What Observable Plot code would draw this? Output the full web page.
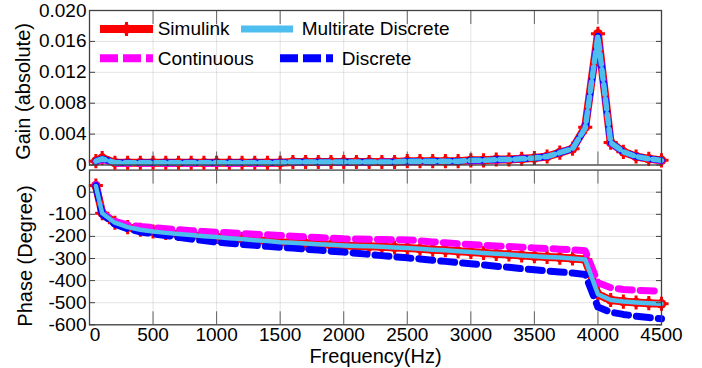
<!DOCTYPE html>
<html><head><meta charset="utf-8">
<script src="https://cdn.jsdelivr.net/npm/d3@7"></script>
<script src="https://cdn.jsdelivr.net/npm/@observablehq/plot@0.6"></script>
<style>
html,body{margin:0;padding:0;background:#fff;}
#chart{position:relative;width:702px;height:368px;overflow:hidden;}
#chart svg{position:absolute;left:0;}
</style></head><body><div id="chart"></div>
<script>
// ---- data ----
const freqs = [50,100,200,300,400,500,600,700,800,900,1000,1100,1200,1300,1400,1500,1600,1700,1800,1900,2000,2100,2200,2300,2400,2500,2600,2700,2800,2900,3000,3100,3200,3300,3400,3500,3600,3700,3800,3900,4000,4100,4200,4300,4400,4500];

const gainSimulink   = [0.0005,0.0009,0.0003,0.0003,0.0003,0.0003,0.0003,0.0003,0.0003,0.0003,0.0003,0.0003,0.0003,0.0003,0.0003,0.0003,0.0004,0.0004,0.0004,0.0004,0.0004,0.0004,0.0004,0.0004,0.0004,0.0005,0.0005,0.0005,0.0005,0.0005,0.0006,0.0006,0.0007,0.0007,0.0008,0.0009,0.0011,0.0016,0.0021,0.0049,0.0170,0.0029,0.0017,0.0011,0.0008,0.0006];
const gainMultirate  = [0.0005,0.0008,0.0003,0.0003,0.0003,0.0003,0.0003,0.0003,0.0003,0.0003,0.0003,0.0003,0.0003,0.0003,0.0003,0.0003,0.0004,0.0004,0.0004,0.0004,0.0004,0.0004,0.0004,0.0004,0.0004,0.0005,0.0005,0.0005,0.0005,0.0005,0.0006,0.0006,0.0007,0.0007,0.0008,0.0009,0.0011,0.0016,0.0021,0.0048,0.0167,0.0029,0.0017,0.0011,0.0008,0.0006];
const gainContinuous = [0.0004,0.0007,0.0002,0.0002,0.0002,0.0002,0.0002,0.0002,0.0002,0.0002,0.0002,0.0002,0.0002,0.0002,0.0002,0.0003,0.0003,0.0003,0.0003,0.0003,0.0003,0.0003,0.0003,0.0004,0.0004,0.0004,0.0004,0.0004,0.0005,0.0005,0.0005,0.0006,0.0006,0.0007,0.0008,0.0009,0.0011,0.0016,0.0021,0.0048,0.0167,0.0028,0.0017,0.0011,0.0008,0.0005];
const gainDiscrete   = [0.0005,0.0008,0.0003,0.0003,0.0003,0.0003,0.0003,0.0003,0.0003,0.0003,0.0003,0.0003,0.0003,0.0003,0.0003,0.0003,0.0004,0.0004,0.0004,0.0004,0.0004,0.0004,0.0004,0.0004,0.0004,0.0005,0.0005,0.0005,0.0005,0.0005,0.0006,0.0006,0.0007,0.0007,0.0008,0.0009,0.0011,0.0016,0.0021,0.0048,0.0167,0.0029,0.0017,0.0011,0.0008,0.0006];

const phaseSimulink   = [30,-95,-138,-158,-170,-178,-184,-189,-194,-199,-203,-208,-212,-217,-221,-226,-229,-232,-235,-238,-241,-243,-245,-247,-250,-252,-256,-260,-263,-267,-271,-275,-279,-282,-286,-290,-293,-296,-300,-305,-462,-488,-495,-499,-502,-505];
const phaseMultirate  = [28,-95,-138,-158,-170,-178,-184,-189,-194,-199,-203,-208,-212,-217,-221,-226,-229,-232,-235,-238,-241,-243,-245,-247,-250,-252,-256,-260,-263,-267,-271,-275,-279,-282,-286,-290,-293,-296,-300,-305,-462,-488,-495,-499,-502,-505];
const phaseContinuous = [35,-95,-132,-148,-155,-160,-165,-170,-174,-178,-181,-184,-187,-190,-193,-196,-199,-202,-205,-208,-211,-212,-213,-214,-215,-216,-220,-225,-229,-233,-237,-240,-243,-246,-249,-252,-255,-258,-261,-265,-410,-432,-440,-444,-446,-448];
const phaseDiscrete   = [30,-100,-145,-165,-180,-188,-196,-204,-212,-219,-226,-231,-236,-240,-245,-249,-253,-258,-262,-267,-271,-276,-281,-287,-292,-297,-302,-308,-313,-319,-324,-329,-335,-340,-346,-351,-356,-361,-366,-372,-520,-543,-553,-561,-567,-573];

const xTicks = [0,500,1000,1500,2000,2500,3000,3500,4000,4500];
const xTickLabels = ["0","500","1000","1500","2000","2500","3000","3500","4000","4500"];
const gainTicks = [0,0.004,0.008,0.012,0.016,0.020];
const gainTickLabels = ["0","0.004","0.008","0.012","0.016","0.020"];
const phaseTicks = [-600,-500,-400,-300,-200,-100,0];
const phaseTickLabels = ["-600","-500","-400","-300","-200","-100","0"];

const seriesNames = ["Simulink","Multirate Discrete","Continuous","Discrete"];
const seriesColors = ["#ff0000","#4dbeee","#ff00ff","#0000ff"];

// ---- helpers ----
const rows = arr => freqs.map((f, i) => ({f, v: arr[i]}));
const fontFamily = '"Liberation Sans", Arial, Helvetica, sans-serif';
const frameColor = "#404040";
const common = {
  width: 702, marginLeft: 89, marginRight: 41,
  x: {domain: [0, 4500]},
  style: {fontFamily, fontSize: "19px", color: "#000", background: "transparent", overflow: "visible"}
};
const gridStyle = {stroke: "#000", strokeOpacity: 0.11, strokeWidth: 1};
const fmt = (ticks, labels) => d => labels[ticks.indexOf(d)] ?? "";
const blank = () => "";

function frameMarks(yTicks) {
  return [
    Plot.axisY({ticks: yTicks, anchor: "left", tickSize: 6, dx: 6, tickFormat: blank, label: null, stroke: frameColor}),
    Plot.axisY({ticks: yTicks, anchor: "right", tickSize: 6, dx: -6, tickFormat: blank, label: null, stroke: frameColor}),
    Plot.axisX({ticks: xTicks, anchor: "top", tickSize: 13, dy: 13, tickFormat: blank, label: null, stroke: frameColor, strokeOpacity: 0.8}),
    Plot.axisX({ticks: xTicks, anchor: "bottom", tickSize: 13, dy: -13, tickFormat: blank, label: null, stroke: frameColor, strokeOpacity: 0.8}),
    Plot.frame({stroke: frameColor, strokeWidth: 1.3})
  ];
}

function redMarks(arr) {
  const d = rows(arr);
  return [
    Plot.line(d, {x: "f", y: "v", stroke: seriesColors[0], strokeWidth: 8}),
    Plot.dot(d, {x: "f", y: "v", r: 4.8, fill: seriesColors[0]}),
    Plot.dot(d, {x: "f", y: "v", symbol: "plus", r: 4.6, stroke: seriesColors[0], strokeWidth: 3})
  ];
}

// ---- top panel: gain ----
const topPlot = Plot.plot({
  ...common, height: 168, marginTop: 10, marginBottom: 3.5,
  y: {domain: [0, 0.02]},
  marks: [
    Plot.gridX(xTicks, gridStyle),
    Plot.gridY(gainTicks, gridStyle),
    ...redMarks(gainSimulink),
    Plot.line(rows(gainContinuous), {x: "f", y: "v", stroke: seriesColors[2], strokeWidth: 6.5, strokeDasharray: "14,8"}),
    Plot.line(rows(gainDiscrete), {x: "f", y: "v", stroke: seriesColors[3], strokeWidth: 6.5, strokeDasharray: "14,8"}),
    Plot.line(rows(gainMultirate), {x: "f", y: "v", stroke: seriesColors[1], strokeWidth: 5.5, strokeDasharray: "10,5"}),
    Plot.axisY({ticks: gainTicks, anchor: "left", tickSize: 0, tickPadding: 3, tickFormat: fmt(gainTicks, gainTickLabels), label: null}),
    ...frameMarks(gainTicks),
    Plot.text(["Gain (absolute)"], {frameAnchor: "left", textAnchor: "middle", lineAnchor: "bottom", rotate: -90, dx: -59.5, dy: 3.7, fontSize: 20, fill: "#000"})
  ]
});

// ---- bottom panel: phase ----
const bottomPlot = Plot.plot({
  ...common, height: 200, marginTop: 1.6, marginBottom: 43.7,
  y: {domain: [-600, 100]},
  marks: [
    Plot.gridX(xTicks, gridStyle),
    Plot.gridY(phaseTicks, gridStyle),
    ...redMarks(phaseSimulink),
    Plot.line(rows(phaseContinuous), {x: "f", y: "v", stroke: seriesColors[2], strokeWidth: 7, strokeDasharray: "14,8"}),
    Plot.line(rows(phaseDiscrete), {x: "f", y: "v", stroke: seriesColors[3], strokeWidth: 7, strokeDasharray: "14,8"}),
    Plot.line(rows(phaseMultirate), {x: "f", y: "v", stroke: seriesColors[1], strokeWidth: 4.5}),
    Plot.axisY({ticks: phaseTicks, anchor: "left", tickSize: 0, tickPadding: 3, tickFormat: fmt(phaseTicks, phaseTickLabels), label: null}),
    Plot.axisX({ticks: xTicks.slice(1), anchor: "bottom", tickSize: 0, tickPadding: 3, tickFormat: fmt(xTicks, xTickLabels), label: null}),
    Plot.axisX({ticks: xTicks.slice(0, 1), anchor: "bottom", tickSize: 0, tickPadding: 3, dx: 5.5, tickFormat: fmt(xTicks, xTickLabels), label: null}),
    ...frameMarks(phaseTicks),
    Plot.text(["Phase (Degree)"], {frameAnchor: "left", textAnchor: "middle", lineAnchor: "bottom", rotate: -90, dx: -58, dy: 8.6, fontSize: 20, fill: "#000"}),
    Plot.text(["Frequency(Hz)"], {frameAnchor: "bottom", textAnchor: "middle", lineAnchor: "bottom", dy: 38, fontSize: 20, fill: "#000"})
  ]
});

const chart = document.getElementById("chart");
topPlot.style.top = "0px";
bottomPlot.style.top = "168px";
chart.appendChild(bottomPlot);
chart.appendChild(topPlot);

// ---- legend (inside top panel) ----
const lg = d3.select(topPlot).append("g")
  .attr("font-family", fontFamily).attr("font-size", 19).attr("fill", "#000")
  .attr("text-anchor", "start");
const legendSlots = [
  {x0: 100, x1: 153, tx: 157.7, y: 29, ty: 35},
  {x0: 241, x1: 293, tx: 301.7, y: 29, ty: 35},
  {x0: 100, x1: 153, tx: 157.7, y: 58.3, ty: 65},
  {x0: 280, x1: 333, tx: 341.7, y: 58.3, ty: 65}
];
const legendWidths = [8, 7, 8, 8];
const legendDash = [null, null, "18,5", "18,5"];
seriesNames.forEach((name, i) => {
  const s = legendSlots[i];
  lg.append("line").attr("x1", s.x0).attr("x2", s.x1).attr("y1", s.y).attr("y2", s.y)
    .attr("stroke", seriesColors[i]).attr("stroke-width", legendWidths[i])
    .attr("stroke-dasharray", legendDash[i]);
  if (i === 0) {
    const cx = (s.x0 + s.x1) / 2;
    lg.append("circle").attr("cx", cx).attr("cy", s.y).attr("r", 4.8).attr("fill", seriesColors[0]);
    lg.append("path").attr("d", `M${cx},${s.y - 7}V${s.y + 7}M${cx - 7},${s.y}H${cx + 7}`)
      .attr("stroke", seriesColors[0]).attr("stroke-width", 3);
  }
  lg.append("text").attr("x", s.tx).attr("y", s.ty).attr("text-anchor", "start").text(name);
});
</script>
</body></html>
